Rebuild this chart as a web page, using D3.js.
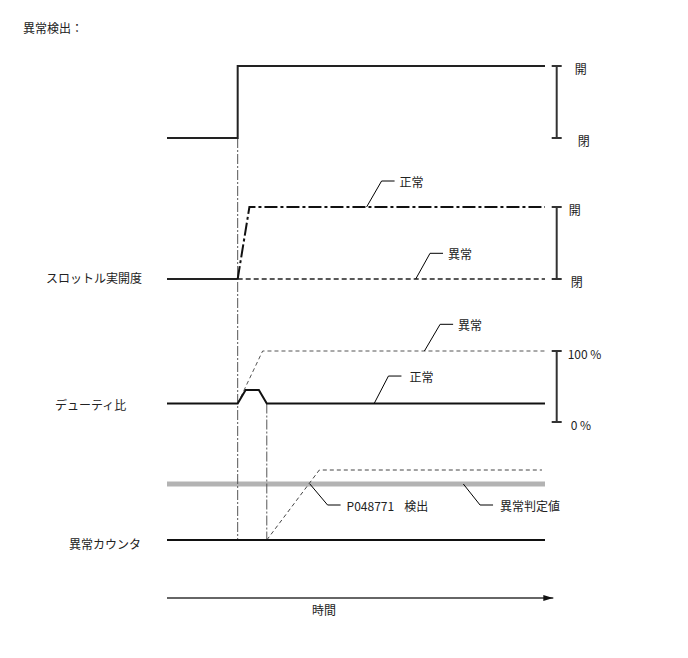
<!DOCTYPE html>
<html>
<head>
<meta charset="utf-8">
<script src="https://cdn.jsdelivr.net/npm/d3@7"></script>
<style>
	body{margin:0;background:#fff;}
	svg text{font-family:"Noto Sans CJK JP","Noto Sans",sans-serif;font-size:12px;fill:#222;}
</style>
</head>
<body>
<div id="container"></div>
<script>
var width = 688;
var height = 658;

// time is 0..100 across the chart
var eventTimes = [18.7, 26.4];

var detectData = [[0,0],[18.7,0],[18.7,1],[100,1]];
var throttleBase = [[0,0],[18.7,0]];
var throttleNormal = [[18.7,0],[21.8,1],[100,1]];
var throttleAbnormal = [[18.7,0],[100,0]];
var dutyNormal = [[0,26],[18.7,26],[20.8,45],[24.3,45],[26.4,26],[100,26]];
var dutyAbnormal = [[18.7,26],[25.3,100],[100,100]];
var counterNormal = [[0,0],[100,0]];
var counterAbnormal = [[26.4,0],[40.3,100],[99.2,100]];
var thresholdValue = 80;

var titleText = "異常検出：";
var rowLabels = ["スロットル実開度","デューティ比","異常カウンタ"];
var openCloseTicks = ["開","閉"];
var dutyTicks = ["100 %","0 %"];
var axisLabel = "時間";

var noteLabels = ["正常","異常","異常","正常","P048771","異常判定値"];
var noteTimes = [52.8, 65.8, 68.1, 54.8, 37.8, 78.4];
var noteValues = [1, 0, 100, 26, 80, 80];

var x = d3.scaleLinear().domain([0,100]).range([167,545]);
var yDetect = d3.scaleLinear().domain([0,1]).range([138,66]);
var yThrottle = d3.scaleLinear().domain([0,1]).range([279,207]);
var yDuty = d3.scaleLinear().domain([0,100]).range([422,351]);
var yCounter = d3.scaleLinear().domain([0,100]).range([540,470]);

var svg = d3.select("div#container")
	.append("svg")
	.attr("width", width)
	.attr("height", height);

function line(y){
	return d3.line().x(function(d){return x(d[0]);}).y(function(d){return y(d[1]);});
}

function path(data, y, stroke, w, dash){
	svg.append("path")
		.datum(data)
		.attr("d", line(y))
		.attr("fill","none")
		.attr("stroke", stroke)
		.attr("stroke-width", w)
		.attr("stroke-dasharray", dash || null)
		.attr("stroke-linejoin","miter");
}

// title
svg.append("text").attr("x",23).attr("y",27).attr("dominant-baseline","central").text(titleText);

// threshold band first, so lines go over it
svg.append("line")
	.attr("x1", x(0)).attr("x2", x(100))
	.attr("y1", yCounter(thresholdValue)).attr("y2", yCounter(thresholdValue))
	.attr("stroke","#b3b3b3")
	.attr("stroke-width",5);

// event lines (dash-dot)
var eventTops = [yDetect(0), yDuty(26)];
svg.selectAll("line.event")
	.data(eventTimes)
	.enter()
	.append("line")
	.attr("class","event")
	.attr("x1", function(d){return x(d);})
	.attr("x2", function(d){return x(d);})
	.attr("y1", function(d,i){return eventTops[i];})
	.attr("y2", yCounter(0))
	.attr("stroke","#555")
	.attr("stroke-width",1)
	.attr("stroke-dasharray","10,2,2,2");

// signals
path(detectData, yDetect, "#222", 2);
path(throttleBase, yThrottle, "#222", 2);
path(throttleAbnormal, yThrottle, "#222", 1.6, "5,3");
path(throttleNormal, yThrottle, "#111", 2, "13,3,3,3");
path(dutyAbnormal, yDuty, "#555", 1, "4,3");
path(dutyNormal, yDuty, "#111", 2);
path(counterAbnormal, yCounter, "#444", 1, "4,3");
path(counterNormal, yCounter, "#111", 2);

// brackets on the right
var brackets = [
	{y: yDetect, lo: 0, hi: 1, labels: openCloseTicks, dx: [18, 21]},
	{y: yThrottle, lo: 0, hi: 1, labels: openCloseTicks, dx: [12, 14]},
	{y: yDuty, lo: 0, hi: 100, labels: dutyTicks, dx: [11, 14]}
];
var bx = 556.7;
brackets.forEach(function(b){
	var g = svg.append("g");
	g.append("line").attr("x1",bx).attr("x2",bx)
		.attr("y1",b.y(b.hi)).attr("y2",b.y(b.lo))
		.attr("stroke","#333").attr("stroke-width",2);
	[b.hi, b.lo].forEach(function(v,i){
		g.append("line").attr("x1",bx-5).attr("x2",bx+5)
			.attr("y1",b.y(v)).attr("y2",b.y(v))
			.attr("stroke","#333").attr("stroke-width",2);
		g.append("text")
			.attr("x", bx + b.dx[i])
			.attr("y", b.y(v) + 2)
			.attr("dominant-baseline","central")
			.text(b.labels[i]);
	});
});

// row labels
var rowX = [46, 55, 69];
var rowY = [yThrottle(0)-2, yDuty(26)+1, yCounter(0)+3];
svg.selectAll("text.row")
	.data(rowLabels)
	.enter()
	.append("text")
	.attr("class","row")
	.attr("x", function(d,i){return rowX[i];})
	.attr("y", function(d,i){return rowY[i];})
	.attr("dominant-baseline","central")
	.text(function(d){return d;});

// leader annotations
var noteY = [yThrottle, yThrottle, yDuty, yDuty, yCounter, yCounter];
var noteDx = [15, 14.3, 15.7, 14.3, 17.7, 16.7];
var noteDy = [-26, -25.7, -26.7, -27.5, 21, 21];
var noteGap = [5, 5, 5, 8, 6, 7];
noteLabels.forEach(function(lbl,i){
	var ax = x(noteTimes[i]), ay = noteY[i](noteValues[i]);
	var ex = ax + noteDx[i], ey = ay + noteDy[i];
	svg.append("polyline")
		.attr("points", [[ax,ay],[ex,ey],[ex+13,ey]].map(function(p){return p.join(",");}).join(" "))
		.attr("fill","none")
		.attr("stroke","#000")
		.attr("stroke-width",1);
	svg.append("text")
		.attr("x", ex + 13 + noteGap[i])
		.attr("y", ey)
		.attr("dominant-baseline","central")
		.text(lbl);
	if(lbl == "P048771"){
		svg.append("text")
			.attr("x", ex + 13 + noteGap[i] + 57.6)
			.attr("y", ey)
			.attr("dominant-baseline","central")
			.text("検出");
	}
});

// time axis with arrow
svg.append("defs").append("marker")
	.attr("id","arrow")
	.attr("viewBox","0 0 10 6")
	.attr("refX",10).attr("refY",3)
	.attr("markerWidth",10).attr("markerHeight",6)
	.attr("markerUnits","userSpaceOnUse")
	.attr("orient","auto")
	.append("path")
	.attr("d","M0,0 L10,3 L0,6 Z")
	.attr("fill","#111");

svg.append("line")
	.attr("x1", x(0)).attr("x2", x(102.2))
	.attr("y1", 598).attr("y2", 598)
	.attr("stroke","#333")
	.attr("stroke-width",1.5)
	.attr("marker-end","url(#arrow)");

svg.append("text")
	.attr("x", 324).attr("y", 609)
	.attr("text-anchor","middle")
	.attr("dominant-baseline","central")
	.text(axisLabel);
</script>
</body>
</html>
